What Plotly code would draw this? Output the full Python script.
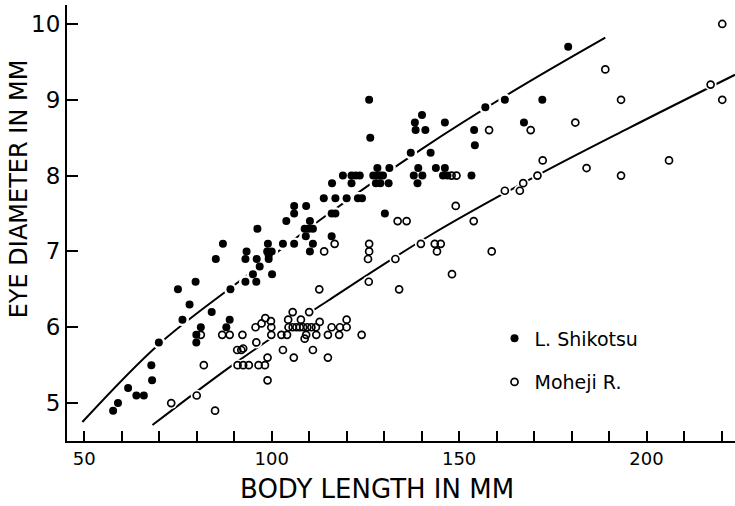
import plotly.graph_objects as go

# ---------------- data ----------------
shik_x = [57.7, 59.0, 61.7, 63.9, 65.9, 67.9, 68.1, 69.9, 75.0, 76.2,
          78.1, 79.7, 79.9, 79.9, 81.1, 84.0, 85.1, 87.0, 87.9, 88.8,
          89.0, 93.0, 93.0, 93.3, 95.9, 96.0, 96.2, 96.8, 95.0, 100.1,
          99.0, 98.8, 100.0, 99.2, 99.2, 103.0, 103.9, 106.0, 106.0, 106.0,
          109.2, 108.8, 109.9, 111.0, 109.1, 110.2, 110.2, 111.0, 113.9, 117.0,
          120.0, 116.0, 117.0, 116.0, 116.1, 119.0, 121.3, 122.4, 123.5, 121.3,
          123.0, 124.1, 126.0, 126.3, 128.2, 131.4, 127.1, 128.1, 129.0, 129.7,
          127.8, 129.0, 131.2, 130.2, 137.1, 138.2, 140.1, 138.4, 141.0, 139.1,
          137.9, 140.2, 138.9, 146.2, 142.4, 154.0, 154.2, 157.0, 143.8, 146.2,
          145.7, 146.9, 153.3, 162.2, 172.2, 167.3, 179.1]
shik_y = [4.9, 5.0, 5.2, 5.1, 5.1, 5.5, 5.3, 5.8, 6.5, 6.1,
          6.3, 6.6, 5.9, 5.8, 6.0, 6.2, 6.9, 7.1, 6.0, 6.1,
          6.5, 6.6, 6.9, 7.0, 6.6, 6.9, 7.3, 6.8, 6.7, 6.7,
          7.1, 7.0, 7.0, 6.95, 6.9, 7.1, 7.4, 7.1, 7.6, 7.5,
          7.6, 7.3, 7.3, 7.3, 7.2, 7.4, 7.0, 7.1, 7.7, 7.7,
          7.7, 7.5, 7.5, 7.2, 7.9, 8.0, 8.0, 8.0, 8.0, 7.9,
          7.7, 7.7, 9.0, 8.5, 8.1, 8.1, 8.0, 8.0, 8.0, 8.0,
          7.9, 7.9, 7.9, 7.5, 8.3, 8.7, 8.8, 8.6, 8.6, 8.1,
          8.0, 8.0, 7.9, 8.7, 8.3, 8.6, 8.4, 8.9, 8.1, 8.1,
          8.0, 8.0, 8.0, 9.0, 9.0, 8.7, 9.7]

moh_x = [73.2, 80.0, 84.9, 81.9, 81.1, 86.8, 88.8, 92.2, 90.8, 91.9,
         92.4, 90.9, 92.4, 93.9, 96.5, 98.2, 98.9, 98.9, 95.9, 95.7,
         97.3, 98.3, 99.8, 99.9, 99.9, 102.6, 104.1, 103.0, 105.9, 104.4,
         105.6, 104.5, 105.6, 106.6, 107.5, 108.4, 107.8, 110.0, 109.5, 110.6,
         111.8, 109.2, 108.8, 111.0, 111.9, 112.8, 115.0, 116.0, 118.0, 118.2,
         120.0, 120.0, 124.0, 115.0, 112.7, 116.8, 114.0, 126.0, 126.0, 125.7,
         125.9, 133.6, 136.0, 133.0, 134.0, 139.8, 143.5, 145.1, 144.1, 148.1,
         149.1, 153.9, 158.7, 148.0, 149.3, 158.0, 169.1, 172.3, 170.9, 167.1,
         166.2, 162.2, 181.0, 184.0, 189.0, 193.2, 193.2, 206.0, 217.1, 220.2, 220.2]
moh_y = [5.0, 5.1, 4.9, 5.5, 5.9, 5.9, 5.9, 5.9, 5.7, 5.7,
         5.72, 5.5, 5.5, 5.5, 5.5, 5.5, 5.6, 5.3, 5.8, 6.0,
         6.05, 6.12, 6.08, 6.0, 5.9, 5.9, 5.9, 5.7, 5.6, 6.1,
         6.2, 6.0, 6.0, 6.0, 6.0, 6.0, 6.1, 6.2, 6.0, 6.0,
         6.0, 5.9, 5.85, 5.7, 5.9, 6.07, 5.9, 6.0, 5.9, 6.0,
         6.1, 6.0, 5.9, 5.6, 6.5, 7.1, 7.0, 7.1, 7.0, 6.9,
         6.6, 7.4, 7.4, 6.9, 6.5, 7.1, 7.1, 7.1, 7.0, 6.7,
         7.6, 7.4, 7.0, 8.0, 8.0, 8.6, 8.6, 8.2, 8.0, 7.9,
         7.8, 7.8, 8.7, 8.1, 9.4, 9.0, 8.0, 8.2, 9.2, 10.0, 9.0]

# fitted curves
shik_fit_x = [49.5, 70, 92, 115, 140, 165, 189]
shik_fit_y = [4.75, 5.78, 6.63, 7.49, 8.35, 9.13, 9.82]
moh_fit_x = [68.2, 91.5, 115, 142.2, 170, 195, 223.6]
moh_fit_y = [4.71, 5.57, 6.35, 7.21, 7.98, 8.62, 9.33]

x_ticks = [50, 100, 150, 200]
y_ticks = [5, 6, 7, 8, 9, 10]

FONT = "DejaVu Sans"

fig = go.Figure()

# fitted lines
for fx, fy in [(shik_fit_x, shik_fit_y), (moh_fit_x, moh_fit_y)]:
    fig.add_trace(go.Scatter(x=fx, y=fy, mode="lines",
                             line=dict(color="black", width=2, shape="spline"),
                             showlegend=False, hoverinfo="skip"))

# white halos that break the lines around the points
for px, py, s in [(shik_x, shik_y, 13), (moh_x, moh_y, 12)]:
    fig.add_trace(go.Scatter(x=px, y=py, mode="markers",
                             marker=dict(color="white", size=s, line=dict(width=0)),
                             showlegend=False, hoverinfo="skip"))

fig.add_trace(go.Scatter(x=shik_x, y=shik_y, mode="markers", name="L. Shikotsu",
                         legendgroup="a",
                         marker=dict(symbol="circle", color="black", size=8,
                                     line=dict(width=0))))
fig.add_trace(go.Scatter(x=moh_x, y=moh_y, mode="markers", name="Moheji R.",
                         legendgroup="b",
                         marker=dict(symbol="circle-open", color="black", size=7,
                                     line=dict(width=1.7, color="black"))))

fig.update_xaxes(range=[45.4, 223.6], showline=True, linecolor="black", linewidth=2,
                 ticks="inside", ticklen=10, tickwidth=2, tickcolor="black",
                 tickvals=x_ticks, ticktext=[str(v) for v in x_ticks],
                 tickfont=dict(family=FONT, size=18, color="black"),
                 showgrid=False, zeroline=False,
                 minor=dict(dtick=10, tick0=50, ticks="inside", ticklen=10,
                            tickwidth=2, tickcolor="black", showgrid=False))
fig.update_yaxes(range=[4.5, 10.25], showline=True, linecolor="black", linewidth=2,
                 ticks="inside", ticklen=11, tickwidth=2, tickcolor="black",
                 tickvals=y_ticks, ticktext=[str(v) for v in y_ticks],
                 tickfont=dict(family=FONT, size=23, color="black"),
                 showgrid=False, zeroline=False)

fig.add_annotation(text="BODY LENGTH IN MM", xref="paper", yref="paper",
                   x=0.4636, y=-0.110, xanchor="center", yanchor="middle",
                   showarrow=False, font=dict(family=FONT, size=26, color="black"))
fig.add_annotation(text="EYE DIAMETER IN MM", xref="paper", yref="paper",
                   x=-0.0714, y=0.578, xanchor="center", yanchor="middle",
                   textangle=-90, showarrow=False,
                   font=dict(family=FONT, size=24, color="black"))

fig.update_layout(
    width=735, height=506,
    margin=dict(l=67, r=0, t=5, b=65, pad=0),
    paper_bgcolor="white", plot_bgcolor="white",
    font=dict(family=FONT, color="black"),
    legend=dict(x=0.64, y=0.279, xanchor="left", yanchor="top",
                font=dict(family=FONT, size=19, color="black"),
                bgcolor="rgba(0,0,0,0)", traceorder="grouped",
                tracegroupgap=16, itemsizing="trace"),
)

fig.write_html("out.html",
               config={"displayModeBar": False},
               post_script="document.body.style.margin='0';"
                           "document.body.style.overflow='hidden';")
